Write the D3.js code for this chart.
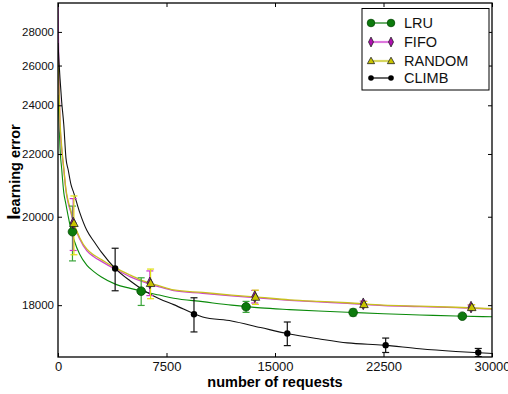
<!DOCTYPE html>
<html>
<head>
<meta charset="utf-8">
<script src="https://cdn.jsdelivr.net/npm/d3@7"></script>
<style>
  body { margin: 0; background: #fff; }
  svg { font-family: "Liberation Sans", Arial, sans-serif; }
</style>
</head>
<body>
<div class="content-container"></div>
<script>
// sampled x positions of the curves (number of requests)
const curveX = [0, 70, 140, 250, 400, 550, 700, 900, 1100, 1500, 2000, 2500, 3000, 4000, 5000,
  6000, 7000, 8000, 10000, 12000, 14000, 16000, 18000, 20000, 22500, 25000, 27500, 30000];

const lruCurve = [24500, 23300, 22200, 21500, 20700, 20350, 20020, 19650, 19400, 19050, 18800, 18660, 18550, 18400, 18320,
  18250, 18190, 18130, 18065, 18000, 17950, 17920, 17895, 17872, 17845, 17825, 17805, 17792];
const fifoCurve = [29900, 25300, 23200, 22200, 21450, 20760, 20400, 20100, 19790, 19420, 19130, 18990, 18890, 18710, 18555,
  18440, 18350, 18275, 18225, 18175, 18130, 18090, 18060, 18035, 17993, 17975, 17955, 17930];
const randomCurve = [26300, 24700, 23300, 22300, 21500, 20800, 20450, 20150, 19830, 19450, 19170, 19030, 18930, 18740, 18590,
  18460, 18370, 18290, 18240, 18190, 18145, 18100, 18070, 18045, 18000, 17982, 17962, 17935];
const climbCurve = [27300, 26200, 25300, 24200, 23150, 21850, 21450, 20950, 20680, 20120, 19630, 19350, 19100, 18720, 18470,
  18270, 18120, 18010, 17790, 17720, 17610, 17505, 17430, 17365, 17330, 17275, 17235, 17205];

// marker points with error bars
const lruMarkX = [1000, 5750, 13000, 20400, 27950];
const lruMarkY = [19600, 18265, 17970, 17868, 17803];
const lruErr = [700, 270, 100, 60, 30];

const fifoMarkX = [1050, 6350, 13600, 21100, 28550];
const fifoMarkY = [19830, 18430, 18160, 18025, 17965];
const fifoErr = [690, 250, 120, 50, 40];

const randomMarkX = [1100, 6400, 13650, 21150, 28600];
const randomMarkY = [19820, 18420, 18150, 18013, 17958];
const randomErr = [780, 300, 135, 55, 50];

const climbMarkX = [3950, 9400, 15850, 22650, 29050];
const climbMarkY = [18733, 17838, 17513, 17330, 17220];
const climbErr = [460, 300, 190, 110, 60];

const seriesNames = ["LRU", "FIFO", "RANDOM", "CLIMB"];
const xTicks = [0, 7500, 15000, 22500, 30000];
const yTicks = [18000, 20000, 22000, 24000, 26000, 28000];

const width = 508;
const height = 394;
const padLeft = 58, padRight = 492, padTop = 3, padBottom = 357;
const yOffset = 14000; // the y axis is logarithmic in (error - 14000)

const svg = d3.select(".content-container")
  .append("svg")
  .attr("width", width)
  .attr("height", height);

const xScale = d3.scaleLinear().domain([0, 30000]).range([padLeft, padRight]);
const yLog = d3.scaleLog().domain([3154, 15985]).range([padBottom, padTop]);
const yScale = v => yLog(v - yOffset);

const styles = {
  LRU:    { line: "#0a8a0a", err: "#3aa53a", fill: "#0c7a0c", stroke: "#044a04", marker: "circle", size: 4.3, lw: 1.1 },
  FIFO:   { line: "#cc44cc", err: "#cc33cc", fill: "#b010b0", stroke: "#222", marker: "diamond", size: 4.5, lw: 1.3 },
  RANDOM: { line: "#c8c020", err: "#dede10", fill: "#c8c400", stroke: "#222", marker: "triangle", size: 4.5, lw: 1.3 },
  CLIMB:  { line: "#111", err: "#111", fill: "#000", stroke: "#000", marker: "dot", size: 3.2, lw: 1.1 }
};

const series = [
  { name: "LRU", curve: lruCurve, mx: lruMarkX, my: lruMarkY, err: lruErr },
  { name: "FIFO", curve: fifoCurve, mx: fifoMarkX, my: fifoMarkY, err: fifoErr },
  { name: "RANDOM", curve: randomCurve, mx: randomMarkX, my: randomMarkY, err: randomErr },
  { name: "CLIMB", curve: climbCurve, mx: climbMarkX, my: climbMarkY, err: climbErr }
];

svg.append("clipPath").attr("id", "plotclip")
  .append("rect").attr("x", padLeft).attr("y", padTop)
  .attr("width", padRight - padLeft).attr("height", padBottom - padTop);

const plot = svg.append("g").attr("clip-path", "url(#plotclip)");

const line = d3.line()
  .x((d, i) => xScale(curveX[i]))
  .y(d => yScale(d))
  .curve(d3.curveMonotoneX);

// draw a marker shape centred at 0,0
function drawMarker(g, kind, s, fill, stroke) {
  if (kind === "circle") {
    g.append("circle").attr("r", s).attr("fill", fill).attr("stroke", stroke).attr("stroke-width", 0.8);
  } else if (kind === "dot") {
    g.append("circle").attr("r", s).attr("fill", fill);
  } else if (kind === "diamond") {
    g.append("path").attr("d", `M0,${-s * 1.3}L${s * 0.65},0L0,${s * 1.3}L${-s * 0.65},0Z`)
      .attr("fill", fill).attr("stroke", stroke).attr("stroke-width", 0.8);
  } else {
    g.append("path").attr("d", `M0,${-s}L${s * 0.95},${s * 0.7}L${-s * 0.95},${s * 0.7}Z`)
      .attr("fill", fill).attr("stroke", stroke).attr("stroke-width", 0.8);
  }
}

series.forEach(function (s) {
  const st = styles[s.name];
  plot.append("path")
    .datum(s.curve)
    .attr("fill", "none")
    .attr("stroke", st.line)
    .attr("stroke-width", st.lw)
    .attr("d", line);
});

series.forEach(function (s) {
  const st = styles[s.name];
  const g = plot.append("g");
  s.mx.forEach(function (mx, i) {
    const cx = xScale(mx);
    const y1 = yScale(s.my[i] + s.err[i]);
    const y2 = yScale(s.my[i] - s.err[i]);
    g.append("line").attr("x1", cx).attr("x2", cx).attr("y1", y1).attr("y2", y2)
      .attr("stroke", st.err).attr("stroke-width", 1.2);
    [y1, y2].forEach(function (yy) {
      g.append("line").attr("x1", cx - 3.5).attr("x2", cx + 3.5).attr("y1", yy).attr("y2", yy)
        .attr("stroke", st.err).attr("stroke-width", 1.2);
    });
  });
});

series.forEach(function (s) {
  const st = styles[s.name];
  s.mx.forEach(function (mx, i) {
    const g = plot.append("g")
      .attr("transform", "translate(" + xScale(mx) + "," + yScale(s.my[i]) + ")");
    drawMarker(g, st.marker, st.size, st.fill, st.stroke);
  });
});

// AXES (inward ticks on all four sides)

const xAxis = d3.axisBottom(xScale).tickValues(xTicks).tickFormat(d3.format("d"))
  .tickSizeInner(-4).tickSizeOuter(0).tickPadding(5);
const gx = svg.append("g").attr("transform", "translate(0," + padBottom + ")").call(xAxis);
gx.select(".domain").remove();
gx.selectAll("text").attr("font-size", "13px").attr("font-family", "Liberation Sans, Arial").attr("fill", "#111");

const gxTop = svg.append("g").attr("transform", "translate(0," + padTop + ")")
  .call(d3.axisTop(xScale).tickValues(xTicks).tickSizeInner(-4).tickSizeOuter(0).tickFormat(""));
gxTop.select(".domain").remove();

const yAxis = d3.axisLeft(yLog)
  .tickValues(yTicks.map(t => t - yOffset))
  .tickFormat(d => String(d + yOffset))
  .tickSizeInner(-4).tickSizeOuter(0).tickPadding(4);
const gy = svg.append("g").attr("transform", "translate(" + padLeft + ",0)").call(yAxis);
gy.select(".domain").remove();
gy.selectAll("text").attr("font-size", "11.5px").attr("font-family", "Liberation Sans, Arial").attr("fill", "#111");

const gyRight = svg.append("g").attr("transform", "translate(" + padRight + ",0)")
  .call(d3.axisRight(yLog).tickValues(yTicks.map(t => t - yOffset)).tickSizeInner(-4).tickSizeOuter(0).tickFormat(""));
gyRight.select(".domain").remove();

svg.append("rect")
  .attr("x", padLeft).attr("y", padTop)
  .attr("width", padRight - padLeft).attr("height", padBottom - padTop)
  .attr("fill", "none").attr("stroke", "#000").attr("stroke-width", 1.3);

// LABELS

svg.append("text")
  .attr("x", (padLeft + padRight) / 2)
  .attr("y", 387)
  .attr("text-anchor", "middle")
  .attr("font-size", "14.5px")
  .attr("font-weight", "bold")
  .text("number of requests");

const yl = svg.append("text")
  .attr("transform", "translate(20,172) rotate(-90)")
  .attr("text-anchor", "middle")
  .attr("font-size", "14.5px")
  .attr("font-weight", "bold");
yl.append("tspan").attr("font-size", "19px").text("l");
yl.append("tspan").text("earning error");

// LEGEND

const legend = svg.append("g");
legend.append("rect")
  .attr("x", 362).attr("y", 8.5).attr("width", 127).attr("height", 81.5)
  .attr("fill", "#fff").attr("stroke", "#000").attr("stroke-width", 1);

const legendY = [23, 42, 61, 78];
const legendLine = { LRU: "#0a7a0a", FIFO: "#dd77dd", RANDOM: "#d6d660", CLIMB: "#000" };

seriesNames.forEach(function (name, i) {
  const st = styles[name];
  const ly = legendY[i];
  legend.append("line").attr("x1", 371).attr("x2", 391).attr("y1", ly).attr("y2", ly)
    .attr("stroke", legendLine[name]).attr("stroke-width", name === "LRU" || name === "CLIMB" ? 1.2 : 2.2);
  [371, 391].forEach(function (lx) {
    const g = legend.append("g").attr("transform", "translate(" + lx + "," + ly + ")");
    drawMarker(g, st.marker, name === "CLIMB" ? 2.8 : 3.8, st.fill, st.stroke);
  });
  legend.append("text")
    .attr("x", 404).attr("y", ly + 5)
    .attr("font-size", "14.5px")
    .attr("fill", "#111")
    .text(name);
});
</script>
</body>
</html>
